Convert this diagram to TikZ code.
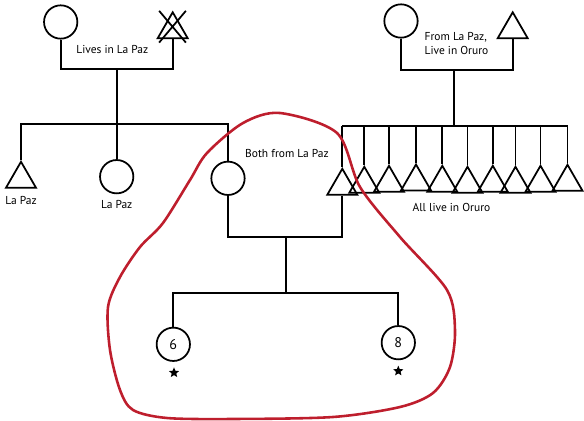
\documentclass[tikz,border=0pt]{standalone}
\usepackage{fontspec}
\setsansfont{PT Sans}
\usepackage{tikz}
\usetikzlibrary{shapes.geometric,shapes.misc}
\definecolor{loopc}{RGB}{190,30,45}

\begin{document}
\begin{tikzpicture}[x=0.03cm,y=-0.03cm,font=\sffamily\fontsize{9.8}{12}\selectfont,line width=1.5pt,
  fem/.style={draw,circle,minimum size=1cm,inner sep=0pt},
  mal/.style={draw,regular polygon,regular polygon sides=3,minimum size=1.04cm,inner sep=0pt,anchor=north},
  tag/.style={inner sep=1pt},
  mark star/.style={star,star points=5,star point ratio=2.2,fill,minimum size=0.32cm,inner sep=0pt},
  loop/.style={draw=loopc,line width=2.2pt}]
\useasboundingbox (0,0) rectangle (584,421);
% La Paz grandparents, grandfather crossed out
\node[fem] (gm1) at (60.7,22) {};
\node[mal] (gf1) at (172.7,10.5) {};
\node[draw,cross out,minimum width=0.75cm,minimum height=0.9cm] (gfx) at (172.5,26.7) {};
\node[tag] (t1) at (112.3,50) {Lives in La Paz};
\coordinate (m1) at (116.7,69);
\coordinate (s1) at (116.7,124);
\draw (gm1.south) |- (m1) -| (gf1.south);
\draw (m1) -- (s1);
\node[mal] (b1) at (21,160) {};
\node[fem] (b2) at (116.7,176.7) {};
\node[fem] (b3) at (228,178.3) {};
\draw (b1.north) |- (s1) -| (b3.north);
\draw (s1) -- (b2.north);
\node[tag] (lp1) at (21,200) {La Paz};
\node[tag] (lp2) at (116.7,204.3) {La Paz};
% Oruro grandparents
\node[fem] (gm2) at (401,21) {};
\node[mal] (gf2) at (512.7,10.5) {};
\node[tag,align=left] (t2) at (456.5,43.5) {From La Paz,\\Live in Oruro};
\coordinate (m2) at (454,70);
\coordinate (s2) at (454,126);
\draw (gm2.south) |- (m2) -| (gf2.south);
\draw (m2) -- (s2);
% ten sons, crowded
\foreach \i/\x/\y in {1/342.3/167,2/364.3/165,3/389/164,4/416/162.7,5/442.3/164,
  6/467.5/165,7/492.8/164,8/515.5/165,9/540.5/164,10/567.5/163}{
  \node[mal] (o\i) at (\x,\y) {};
  \draw (o\i.north) -- (o\i.north |- s2);
}
\draw (o1.north |- s2) -- (o10.north |- s2);
\node[tag] (t3) at (451.5,207) {All live in Oruro};
% the couple and their children
\node[tag] (t4) at (287,153.3) {Both from La Paz};
\coordinate (m3) at (286,237);
\coordinate (s3) at (286,293);
\draw (b3.south) |- (m3) -| (o1.south);
\draw (m3) -- (s3);
\node[fem,font=\sffamily\fontsize{12}{14}\selectfont] (k1) at (173.3,344.3) {6};
\node[fem,font=\sffamily\fontsize{12}{14}\selectfont] (k2) at (398.3,342.7) {8};
\draw (k1.north) |- (s3) -| (k2.north);
\node[mark star] (st1) at (174,372.7) {};
\node[mark star] (st2) at (398.3,371) {};
% red loop round the household
\draw[loop] plot[smooth cycle] coordinates {(280,113) (337,133) (360,187)
  (400,237) (447,290) (455,330) (450,367) (433,393) (400,407) (333,417) (233,419)
  (167,418) (133,410) (120,390) (110,350) (108,307) (120,277) (140,247) (163,223)
  (190,180) (207,153) (243,123)};
\end{tikzpicture}
\end{document}
